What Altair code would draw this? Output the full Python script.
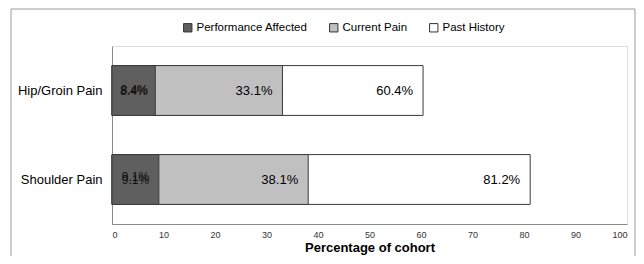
import altair as alt
import pandas as pd

categories = ["Hip/Groin Pain", "Shoulder Pain"]
series = ["Performance Affected", "Current Pain", "Past History"]
performance = [8.4, 9.1]
current = [33.1, 38.1]
past = [60.4, 81.2]
x_ticks = [0, 10, 20, 30, 40, 50, 60, 70, 80, 90, 100]
colors = ["#5f5f5f", "#c0c0c0", "#ffffff"]

rows = []
for i, c in enumerate(categories):
    for s, vals in [("Past History", past), ("Current Pain", current), ("Performance Affected", performance)]:
        rows.append({"cat": c, "series": s, "value": vals[i], "label": f"{vals[i]:.1f}%", "half": vals[i] / 2})
df = pd.DataFrame(rows)

FONT = "Liberation Sans"

yenc = alt.Y("cat:N", sort=categories,
             scale=alt.Scale(paddingInner=0.44, paddingOuter=0.22),
             axis=alt.Axis(title=None, ticks=False, domainColor="#8a8a8a", labelFont=FONT,
                           labelFontSize=13, labelColor="#000000", labelPadding=10))
xscale = alt.Scale(domain=[0, 100], nice=False)

frame = alt.Chart(pd.DataFrame({"f": [0]})).mark_rect(
    fill=None, stroke="#9a9a9a", strokeWidth=1
).encode(x=alt.value(-101), x2=alt.value(523), y=alt.value(-37), y2=alt.value(240))

bars = alt.Chart(df).mark_bar(stroke="#3a3a3a", strokeWidth=1).encode(
    x=alt.X("value:Q", stack=None, scale=xscale,
            axis=alt.Axis(values=x_ticks, title="Percentage of cohort", ticks=False, grid=False,
                          domainColor="#8a8a8a", labelFont=FONT, labelFontSize=9,
                          labelColor="#333333", labelPadding=6, titleFont=FONT,
                          titleFontSize=13, titleFontWeight="bold", titleColor="#000000",
                          titlePadding=2)),
    y=yenc,
    color=alt.Color("series:N", scale=alt.Scale(domain=series, range=colors),
                    legend=alt.Legend(title=None, orient="none", legendX=70, legendY=-24,
                                      direction="horizontal", symbolType="square",
                                      symbolSize=70, symbolStrokeColor="#333333",
                                      symbolStrokeWidth=1, labelFont=FONT, labelFontSize=11.5,
                                      labelColor="#000000", columnPadding=19, labelOffset=3)),
)

right_labels = alt.Chart(df).transform_filter(
    alt.datum.series != "Performance Affected"
).mark_text(align="right", dx=-10, font=FONT, fontSize=13, color="#000000").encode(
    x=alt.X("value:Q", scale=xscale), y=alt.Y("cat:N", sort=categories), text="label:N"
)

perf = df[df.series == "Performance Affected"]
perf_labels = alt.Chart(perf).mark_text(align="center", font=FONT, fontSize=12,
                                         color="#111111").encode(
    x=alt.X("half:Q", scale=xscale), y=alt.Y("cat:N", sort=categories), text="label:N"
)
perf_hip = alt.Chart(perf).transform_filter(alt.datum.cat == "Hip/Groin Pain").mark_text(
    align="center", font=FONT, fontSize=12, color="#111111", dx=0.7, dy=-0.3
).encode(x=alt.X("half:Q", scale=xscale), y=alt.Y("cat:N", sort=categories), text="label:N")
perf_sh = alt.Chart(perf).transform_filter(alt.datum.cat == "Shoulder Pain").mark_text(
    align="center", font=FONT, fontSize=12, color="#111111", dy=-3
).encode(x=alt.X("half:Q", scale=xscale), y=alt.Y("cat:N", sort=categories), text="label:N")

chart = alt.layer(frame, bars, right_labels, perf_labels, perf_hip, perf_sh).properties(
    width=515, height=178,
    autosize=alt.AutoSizeParams(type="none"),
    padding={"left": 104, "top": 38, "right": 9, "bottom": 32},
).configure_view(stroke=None).configure(background="#ffffff")

chart.save("out.html", embed_options={"renderer": "svg", "actions": False})
